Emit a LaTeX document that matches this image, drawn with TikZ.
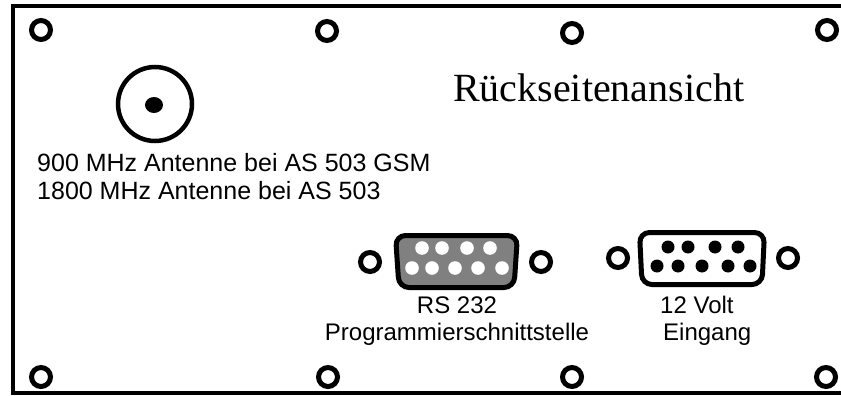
\documentclass[tikz,border=0pt]{standalone}
\usepackage{fontspec}
\setmainfont{Liberation Sans}
\newfontfamily\serifont{Liberation Serif}
\begin{document}
\begin{tikzpicture}[x=1pt,y=-1pt,
  hole/.style={draw=black,line width=5pt,fill=white},
  lbl/.style={inner sep=0pt,font=\fontsize{24}{28}\selectfont},
  pinw/.style={fill=white},
  pinb/.style={fill=black}]
\useasboundingbox (0,0) rectangle (841,396);
% frame (open on the right)
\draw[line width=4.5pt] (850,6) -- (13,6) -- (13,393) -- (850,393);
% corner / edge holes
\foreach \n/\x/\y in {t1/41/30,t2/327/31,t3/572/33,t4/827/30,b1/41/377,b2/328/377,b3/572/377,b4/826/377}
  \draw[hole] (\x,\y) circle[radius=9.5];
% antenna connector
\draw[line width=4.5pt] (155,104) circle[radius=37];
\fill (154,105) ellipse[x radius=9,y radius=8];
\node[lbl,anchor=base west,font=\fontsize{25}{28}\selectfont] (ant1) at (37,171) {900 MHz Antenne bei AS 503 GSM};
\node[lbl,anchor=base west,font=\fontsize{25}{28}\selectfont] (ant2) at (37,199) {1800 MHz Antenne bei AS 503};
% title
\node[inner sep=0pt,anchor=base west,font=\serifont\fontsize{40}{44}\selectfont] (title) at (453,101) {Rückseitenansicht};
% RS232 connector
\draw[hole] (370,262) circle[radius=9.5];
\draw[hole] (541,262) circle[radius=9.5];
\draw[line width=5pt,fill=black!50,rounded corners=10pt] (395.5,235.5) -- (517.5,235.5) -- (514,287.5) -- (399,287.5) -- cycle;
\foreach \x in {422,442,467,490} \fill[pinw] (\x,248) circle[radius=6.8];
\foreach \x in {412,432,455,478,502} \fill[pinw] (\x,268) circle[radius=6.8];
\node[lbl,anchor=base] (rs1) at (457,313) {RS 232};
\node[lbl,anchor=base] (rs2) at (457,340) {Programmierschnittstelle};
% 12 V connector
\draw[hole] (618,258) circle[radius=9.5];
\draw[hole] (788,258) circle[radius=9.5];
\draw[line width=5pt,fill=white,rounded corners=10pt] (639.5,232.5) -- (764.5,232.5) -- (762,284.5) -- (642,284.5) -- cycle;
\foreach \x in {668,688,715,738} \fill[pinb] (\x,247) circle[radius=6.5];
\foreach \x in {657,678,702,728,750} \fill[pinb] (\x,266) circle[radius=6.5];
\node[lbl,anchor=base west] (v1) at (660,313) {12 Volt};
\node[lbl,anchor=base west] (v2) at (663,340) {Eingang};
\end{tikzpicture}
\end{document}
